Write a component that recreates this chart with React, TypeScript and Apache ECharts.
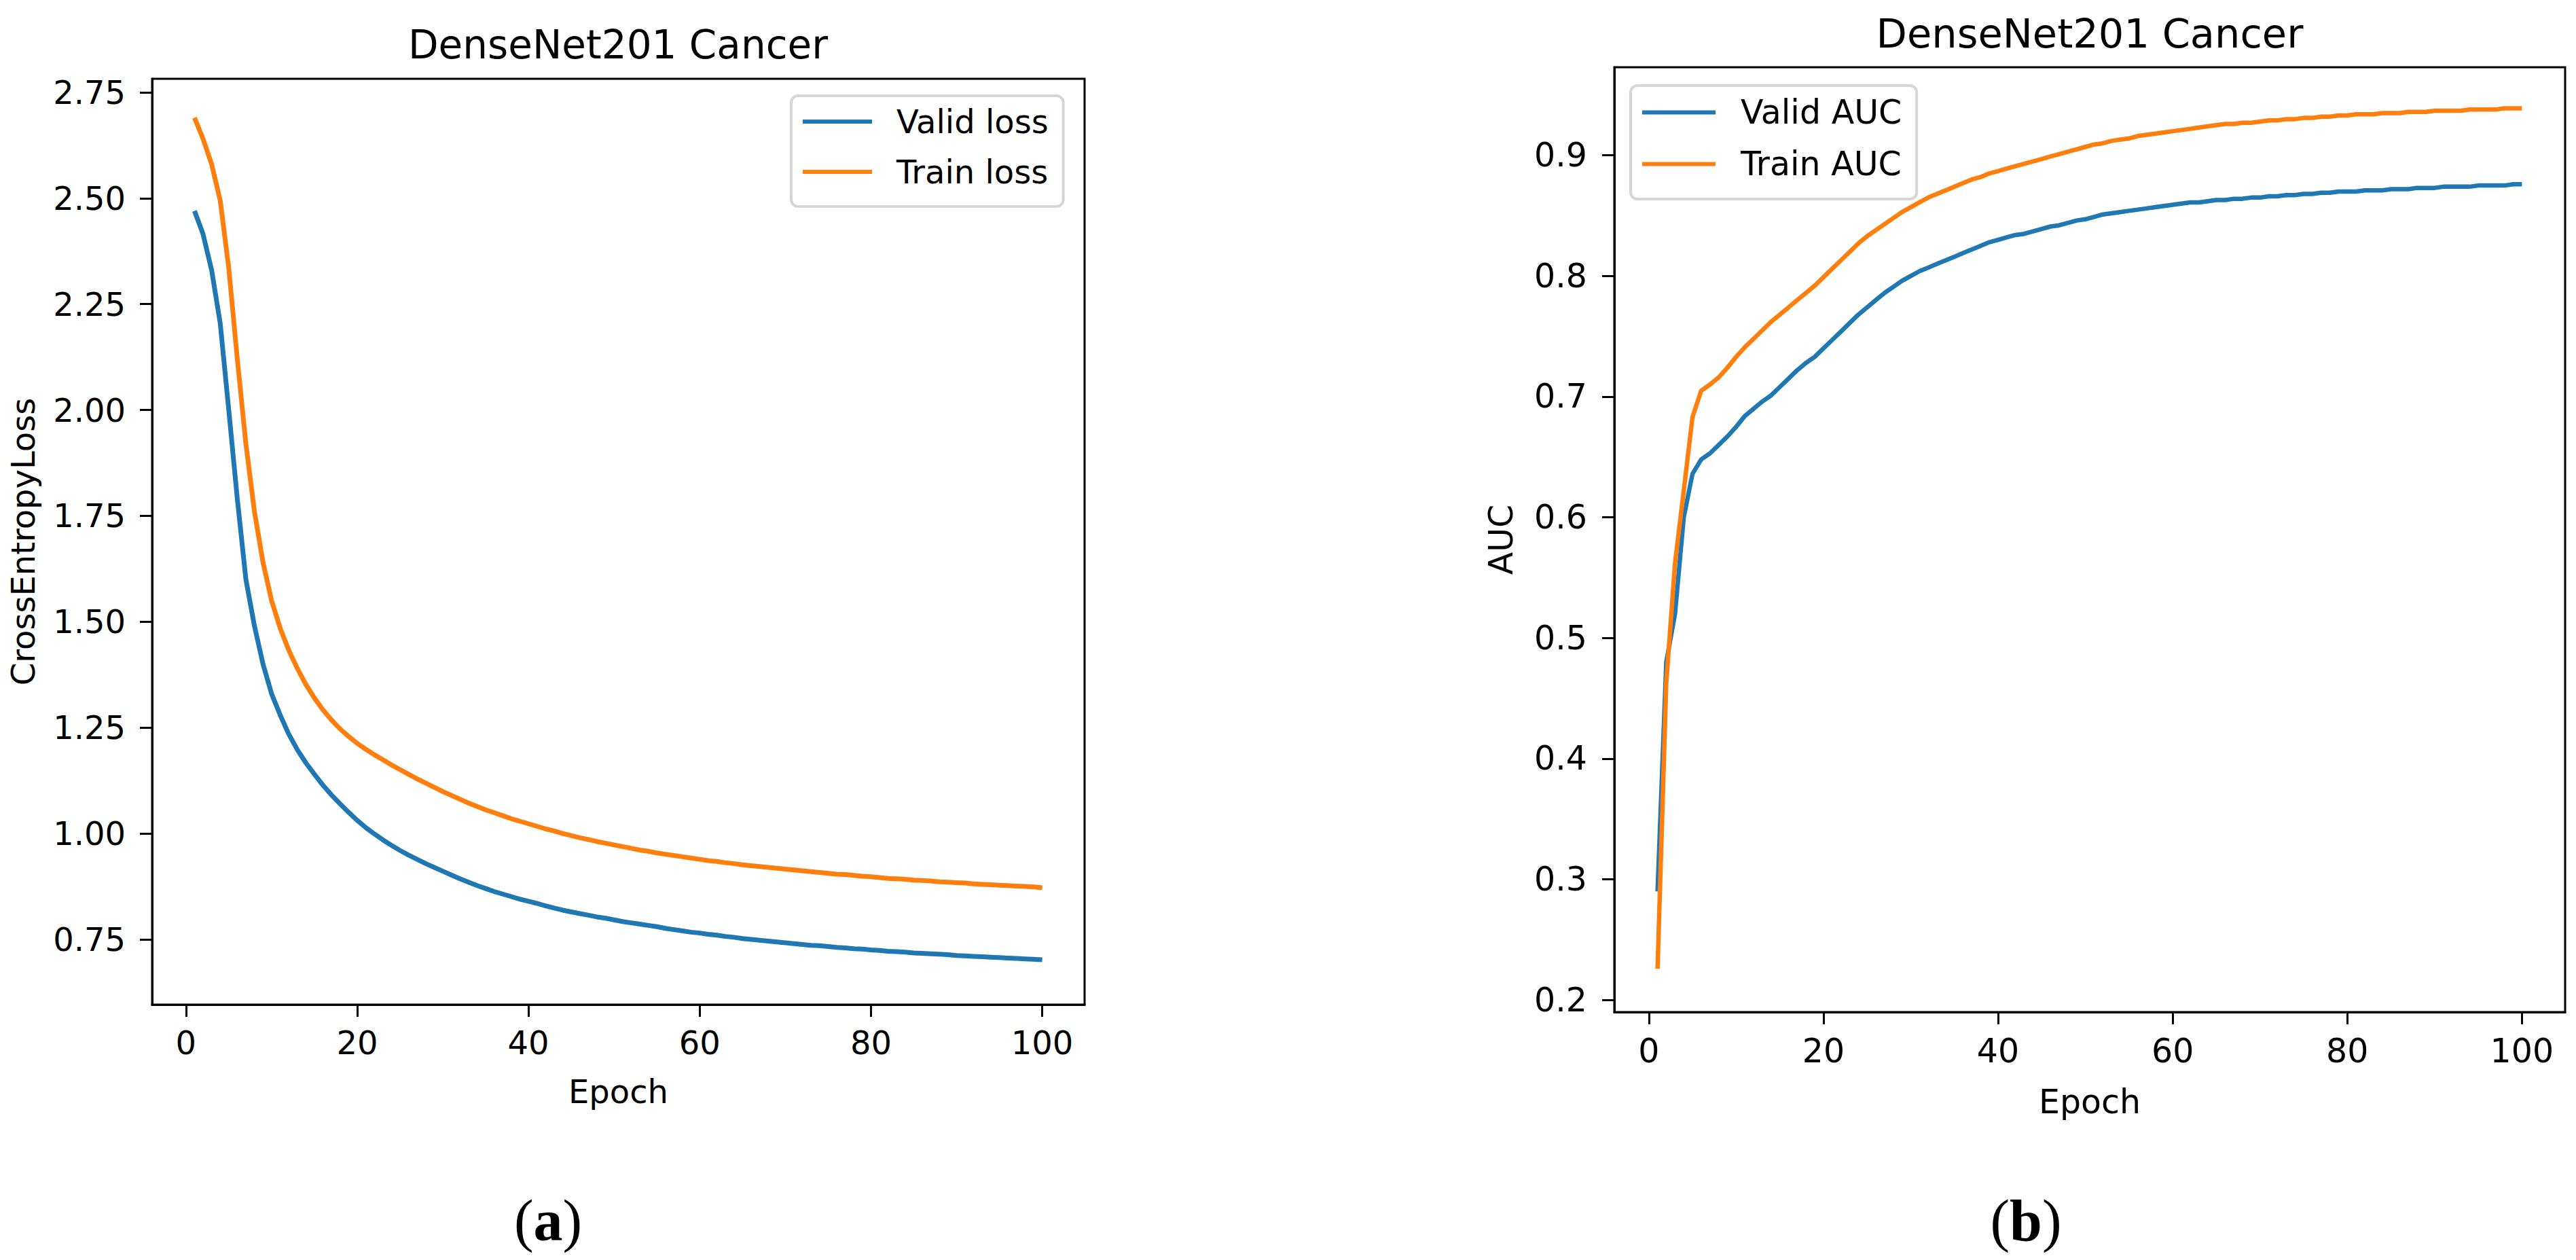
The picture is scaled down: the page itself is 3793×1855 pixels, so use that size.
import React, { useEffect, useRef } from "react";
import * as echarts from "echarts";

const epochs: number[] = Array.from({ length: 100 }, (_, i) => i + 1);

const validLoss: number[] = [
  2.47, 2.415, 2.33, 2.205, 2.0, 1.79, 1.6, 1.49, 1.4, 1.33,
  1.28, 1.235, 1.198, 1.167, 1.14, 1.114, 1.091, 1.07, 1.05, 1.031,
  1.014, 0.999, 0.985, 0.972, 0.96, 0.949, 0.939, 0.929, 0.92, 0.911,
  0.902, 0.893, 0.885, 0.877, 0.87, 0.863, 0.857, 0.851, 0.845, 0.84,
  0.835, 0.829, 0.824, 0.819, 0.815, 0.811, 0.807, 0.803, 0.8, 0.796,
  0.792, 0.789, 0.786, 0.783, 0.78, 0.776, 0.773, 0.77, 0.767, 0.765,
  0.762, 0.76, 0.757, 0.755, 0.752, 0.75, 0.748, 0.746, 0.744, 0.742,
  0.74, 0.738, 0.736, 0.735, 0.733, 0.731, 0.73, 0.728, 0.727, 0.725,
  0.724, 0.722, 0.721, 0.72, 0.718, 0.717, 0.716, 0.715, 0.714, 0.712,
  0.711, 0.71, 0.709, 0.708, 0.707, 0.706, 0.705, 0.704, 0.703, 0.702,
];

const trainLoss: number[] = [
  2.69, 2.64, 2.58, 2.495, 2.335, 2.12, 1.92, 1.76, 1.64, 1.55,
  1.485, 1.433, 1.39, 1.352, 1.32, 1.292, 1.268, 1.247, 1.229, 1.213,
  1.199, 1.186, 1.174, 1.162, 1.151, 1.14, 1.129, 1.119, 1.109, 1.099,
  1.09, 1.081, 1.072, 1.064, 1.056, 1.049, 1.042, 1.035, 1.029, 1.023,
  1.017, 1.011, 1.006, 1.0, 0.995, 0.99, 0.986, 0.981, 0.977, 0.973,
  0.969, 0.965, 0.961, 0.958, 0.954, 0.951, 0.948, 0.945, 0.942, 0.939,
  0.936, 0.934, 0.931, 0.929, 0.926, 0.924, 0.922, 0.92, 0.918, 0.916,
  0.914, 0.912, 0.91, 0.908, 0.906, 0.904, 0.903, 0.901, 0.899, 0.898,
  0.896, 0.894, 0.893, 0.892, 0.89, 0.889, 0.888, 0.886, 0.885, 0.884,
  0.883, 0.881, 0.88, 0.879, 0.878, 0.877, 0.876, 0.875, 0.874, 0.872,
];

const validAuc: number[] = [
  0.29, 0.48, 0.52, 0.6, 0.636, 0.648, 0.653, 0.66, 0.667, 0.675,
  0.684, 0.69, 0.696, 0.701, 0.708, 0.715, 0.722, 0.728, 0.733, 0.74,
  0.747, 0.754, 0.761, 0.768, 0.774, 0.78, 0.786, 0.791, 0.796, 0.8,
  0.804, 0.807, 0.81, 0.813, 0.816, 0.819, 0.822, 0.825, 0.828, 0.83,
  0.832, 0.834, 0.835, 0.837, 0.839, 0.841, 0.842, 0.844, 0.846, 0.847,
  0.849, 0.851, 0.852, 0.853, 0.854, 0.855, 0.856, 0.857, 0.858, 0.859,
  0.86, 0.861, 0.861, 0.862, 0.863, 0.863, 0.864, 0.864, 0.865, 0.865,
  0.866, 0.866, 0.867, 0.867, 0.868, 0.868, 0.869, 0.869, 0.87, 0.87,
  0.87, 0.871, 0.871, 0.871, 0.872, 0.872, 0.872, 0.873, 0.873, 0.873,
  0.874, 0.874, 0.874, 0.874, 0.875, 0.875, 0.875, 0.875, 0.876, 0.876,
];

const trainAuc: number[] = [
  0.226, 0.463, 0.562, 0.622, 0.683, 0.705, 0.71, 0.716, 0.724, 0.733,
  0.741, 0.748, 0.755, 0.762, 0.768, 0.774, 0.78, 0.786, 0.792, 0.799,
  0.806, 0.813, 0.82, 0.827, 0.833, 0.838, 0.843, 0.848, 0.853, 0.857,
  0.861, 0.865, 0.868, 0.871, 0.874, 0.877, 0.88, 0.882, 0.885, 0.887,
  0.889, 0.891, 0.893, 0.895, 0.897, 0.899, 0.901, 0.903, 0.905, 0.907,
  0.909, 0.91, 0.912, 0.913, 0.914, 0.916, 0.917, 0.918, 0.919, 0.92,
  0.921, 0.922, 0.923, 0.924, 0.925, 0.926, 0.926, 0.927, 0.927, 0.928,
  0.929, 0.929, 0.93, 0.93, 0.931, 0.931, 0.932, 0.932, 0.933, 0.933,
  0.934, 0.934, 0.934, 0.935, 0.935, 0.935, 0.936, 0.936, 0.936, 0.937,
  0.937, 0.937, 0.937, 0.938, 0.938, 0.938, 0.938, 0.939, 0.939, 0.939,
];

const xTicks: number[] = [0, 20, 40, 60, 80, 100];
const lossTicks: number[] = [0.75, 1.0, 1.25, 1.5, 1.75, 2.0, 2.25, 2.5, 2.75];
const aucTicks: number[] = [0.2, 0.3, 0.4, 0.5, 0.6, 0.7, 0.8, 0.9];

const titleText = "DenseNet201 Cancer";
const BLUE = "#1f77b4";
const ORANGE = "#ff7f0e";
const FONT = "DejaVu Sans";
const SERIF = "Liberation Serif";

const pairs = (ys: number[]) => ys.map((y, i) => [epochs[i], y]);

export default function App() {
  const ref = useRef<HTMLDivElement>(null);

  useEffect(() => {
    if (!ref.current) return;
    const chart = echarts.init(ref.current, null, { renderer: "svg" });

    const axisCommon = (fs: number) => ({
      type: "value" as const,
      splitLine: { show: false },
      axisLine: { show: true, onZero: false, lineStyle: { color: "#000", width: 3 } },
      nameTextStyle: { fontFamily: FONT, fontSize: fs, color: "#000" },
    });

    const xAxisOf = (grid: number, fs: number, margin: number, gap: number) => ({
      ...axisCommon(fs),
      gridIndex: grid,
      min: -3.95,
      max: 104.95,
      name: "Epoch",
      nameLocation: "middle",
      nameGap: gap,
      axisTick: { show: true, length: 18, lineStyle: { color: "#000", width: 3 }, customValues: xTicks },
      axisLabel: {
        customValues: xTicks,
        fontFamily: FONT,
        fontSize: fs,
        color: "#000",
        margin,
        formatter: (v: number) => String(Math.round(v)),
      },
    });

    const panelLabel = (x: number, letter: string) => ({
      type: "text",
      x,
      y: 1797,
      style: {
        text: "{n|(}{b|" + letter + "}{n|)}",
        fontFamily: SERIF,
        fontSize: 86,
        fontWeight: "normal",
        fill: "#000",
        align: "center",
        verticalAlign: "middle",
        rich: {
          n: { fontFamily: SERIF, fontSize: 86, fontWeight: "normal", fill: "#000" },
          b: { fontFamily: SERIF, fontSize: 86, fontWeight: "bold", fill: "#000" },
        },
      },
    });

    const option: any = {
      animation: false,
      backgroundColor: "#fff",
      grid: [
        { left: 224, top: 116, width: 1373, height: 1363, show: true, borderColor: "#000", borderWidth: 3, containLabel: false, outerBoundsMode: "none" },
        { left: 2377, top: 99, width: 1400, height: 1391, show: true, borderColor: "#000", borderWidth: 3, containLabel: false, outerBoundsMode: "none" },
      ],
      xAxis: [xAxisOf(0, 48, 32, 104), xAxisOf(1, 49, 33, 108)],
      yAxis: [
        {
          ...axisCommon(48),
          gridIndex: 0,
          min: 0.596,
          max: 2.782,
          name: "CrossEntropyLoss",
          nameLocation: "middle",
          nameGap: 166,
          axisTick: { show: true, length: 18, lineStyle: { color: "#000", width: 3 }, customValues: lossTicks },
          axisLabel: {
            customValues: lossTicks,
            fontFamily: FONT,
            fontSize: 48,
            color: "#000",
            margin: 39,
            formatter: (v: number) => v.toFixed(2),
          },
        },
        {
          ...axisCommon(49),
          gridIndex: 1,
          min: 0.19,
          max: 0.973,
          name: "AUC",
          nameLocation: "middle",
          nameGap: 142,
          axisTick: { show: true, length: 18, lineStyle: { color: "#000", width: 3 }, customValues: aucTicks },
          axisLabel: {
            customValues: aucTicks,
            fontFamily: FONT,
            fontSize: 49,
            color: "#000",
            margin: 40,
            formatter: (v: number) => v.toFixed(1),
          },
        },
      ],
      legend: [
        {
          data: ["Valid loss", "Train loss"],
          left: 1165,
          top: 141,
          orient: "vertical",
          icon: "rect",
          itemWidth: 102,
          itemHeight: 6,
          itemGap: 26,
          padding: [14, 22, 27, 17],
          borderColor: "#d6d6d6",
          borderWidth: 4,
          borderRadius: 10,
          backgroundColor: "rgba(255,255,255,0.8)",
          selectedMode: false,
          textStyle: { fontFamily: FONT, fontSize: 48, color: "#000", padding: [0, 0, 0, 31] },
        },
        {
          data: ["Valid AUC", "Train AUC"],
          left: 2401,
          top: 126,
          orient: "vertical",
          icon: "rect",
          itemWidth: 108,
          itemHeight: 6,
          itemGap: 27,
          padding: [15, 22, 27, 17],
          borderColor: "#d6d6d6",
          borderWidth: 4,
          borderRadius: 10,
          backgroundColor: "rgba(255,255,255,0.8)",
          selectedMode: false,
          textStyle: { fontFamily: FONT, fontSize: 49, color: "#000", padding: [0, 0, 0, 32] },
        },
      ],
      series: [
        { name: "Valid loss", type: "line", xAxisIndex: 0, yAxisIndex: 0, data: pairs(validLoss), showSymbol: false, symbol: "none", color: BLUE, lineStyle: { color: BLUE, width: 7 } },
        { name: "Train loss", type: "line", xAxisIndex: 0, yAxisIndex: 0, data: pairs(trainLoss), showSymbol: false, symbol: "none", color: ORANGE, lineStyle: { color: ORANGE, width: 7 } },
        { name: "Valid AUC", type: "line", xAxisIndex: 1, yAxisIndex: 1, data: pairs(validAuc), showSymbol: false, symbol: "none", color: BLUE, lineStyle: { color: BLUE, width: 6.5 } },
        { name: "Train AUC", type: "line", xAxisIndex: 1, yAxisIndex: 1, data: pairs(trainAuc), showSymbol: false, symbol: "none", color: ORANGE, lineStyle: { color: ORANGE, width: 6.5 } },
      ],
      graphic: [
        { type: "text", x: 910, y: 66, style: { text: titleText, fontFamily: FONT, fontSize: 58, fill: "#000", align: "center", verticalAlign: "middle" } },
        { type: "text", x: 3077, y: 49, style: { text: titleText, fontFamily: FONT, fontSize: 59, fill: "#000", align: "center", verticalAlign: "middle" } },
        panelLabel(807, "a"),
        panelLabel(2983, "b"),
      ],
    };

    chart.setOption(option);
    return () => chart.dispose();
  }, []);

  return (
    <div
      ref={ref}
      style={{ position: "absolute", left: 0, top: 0, width: 3793, height: 1855, background: "#fff" }}
    />
  );
}
